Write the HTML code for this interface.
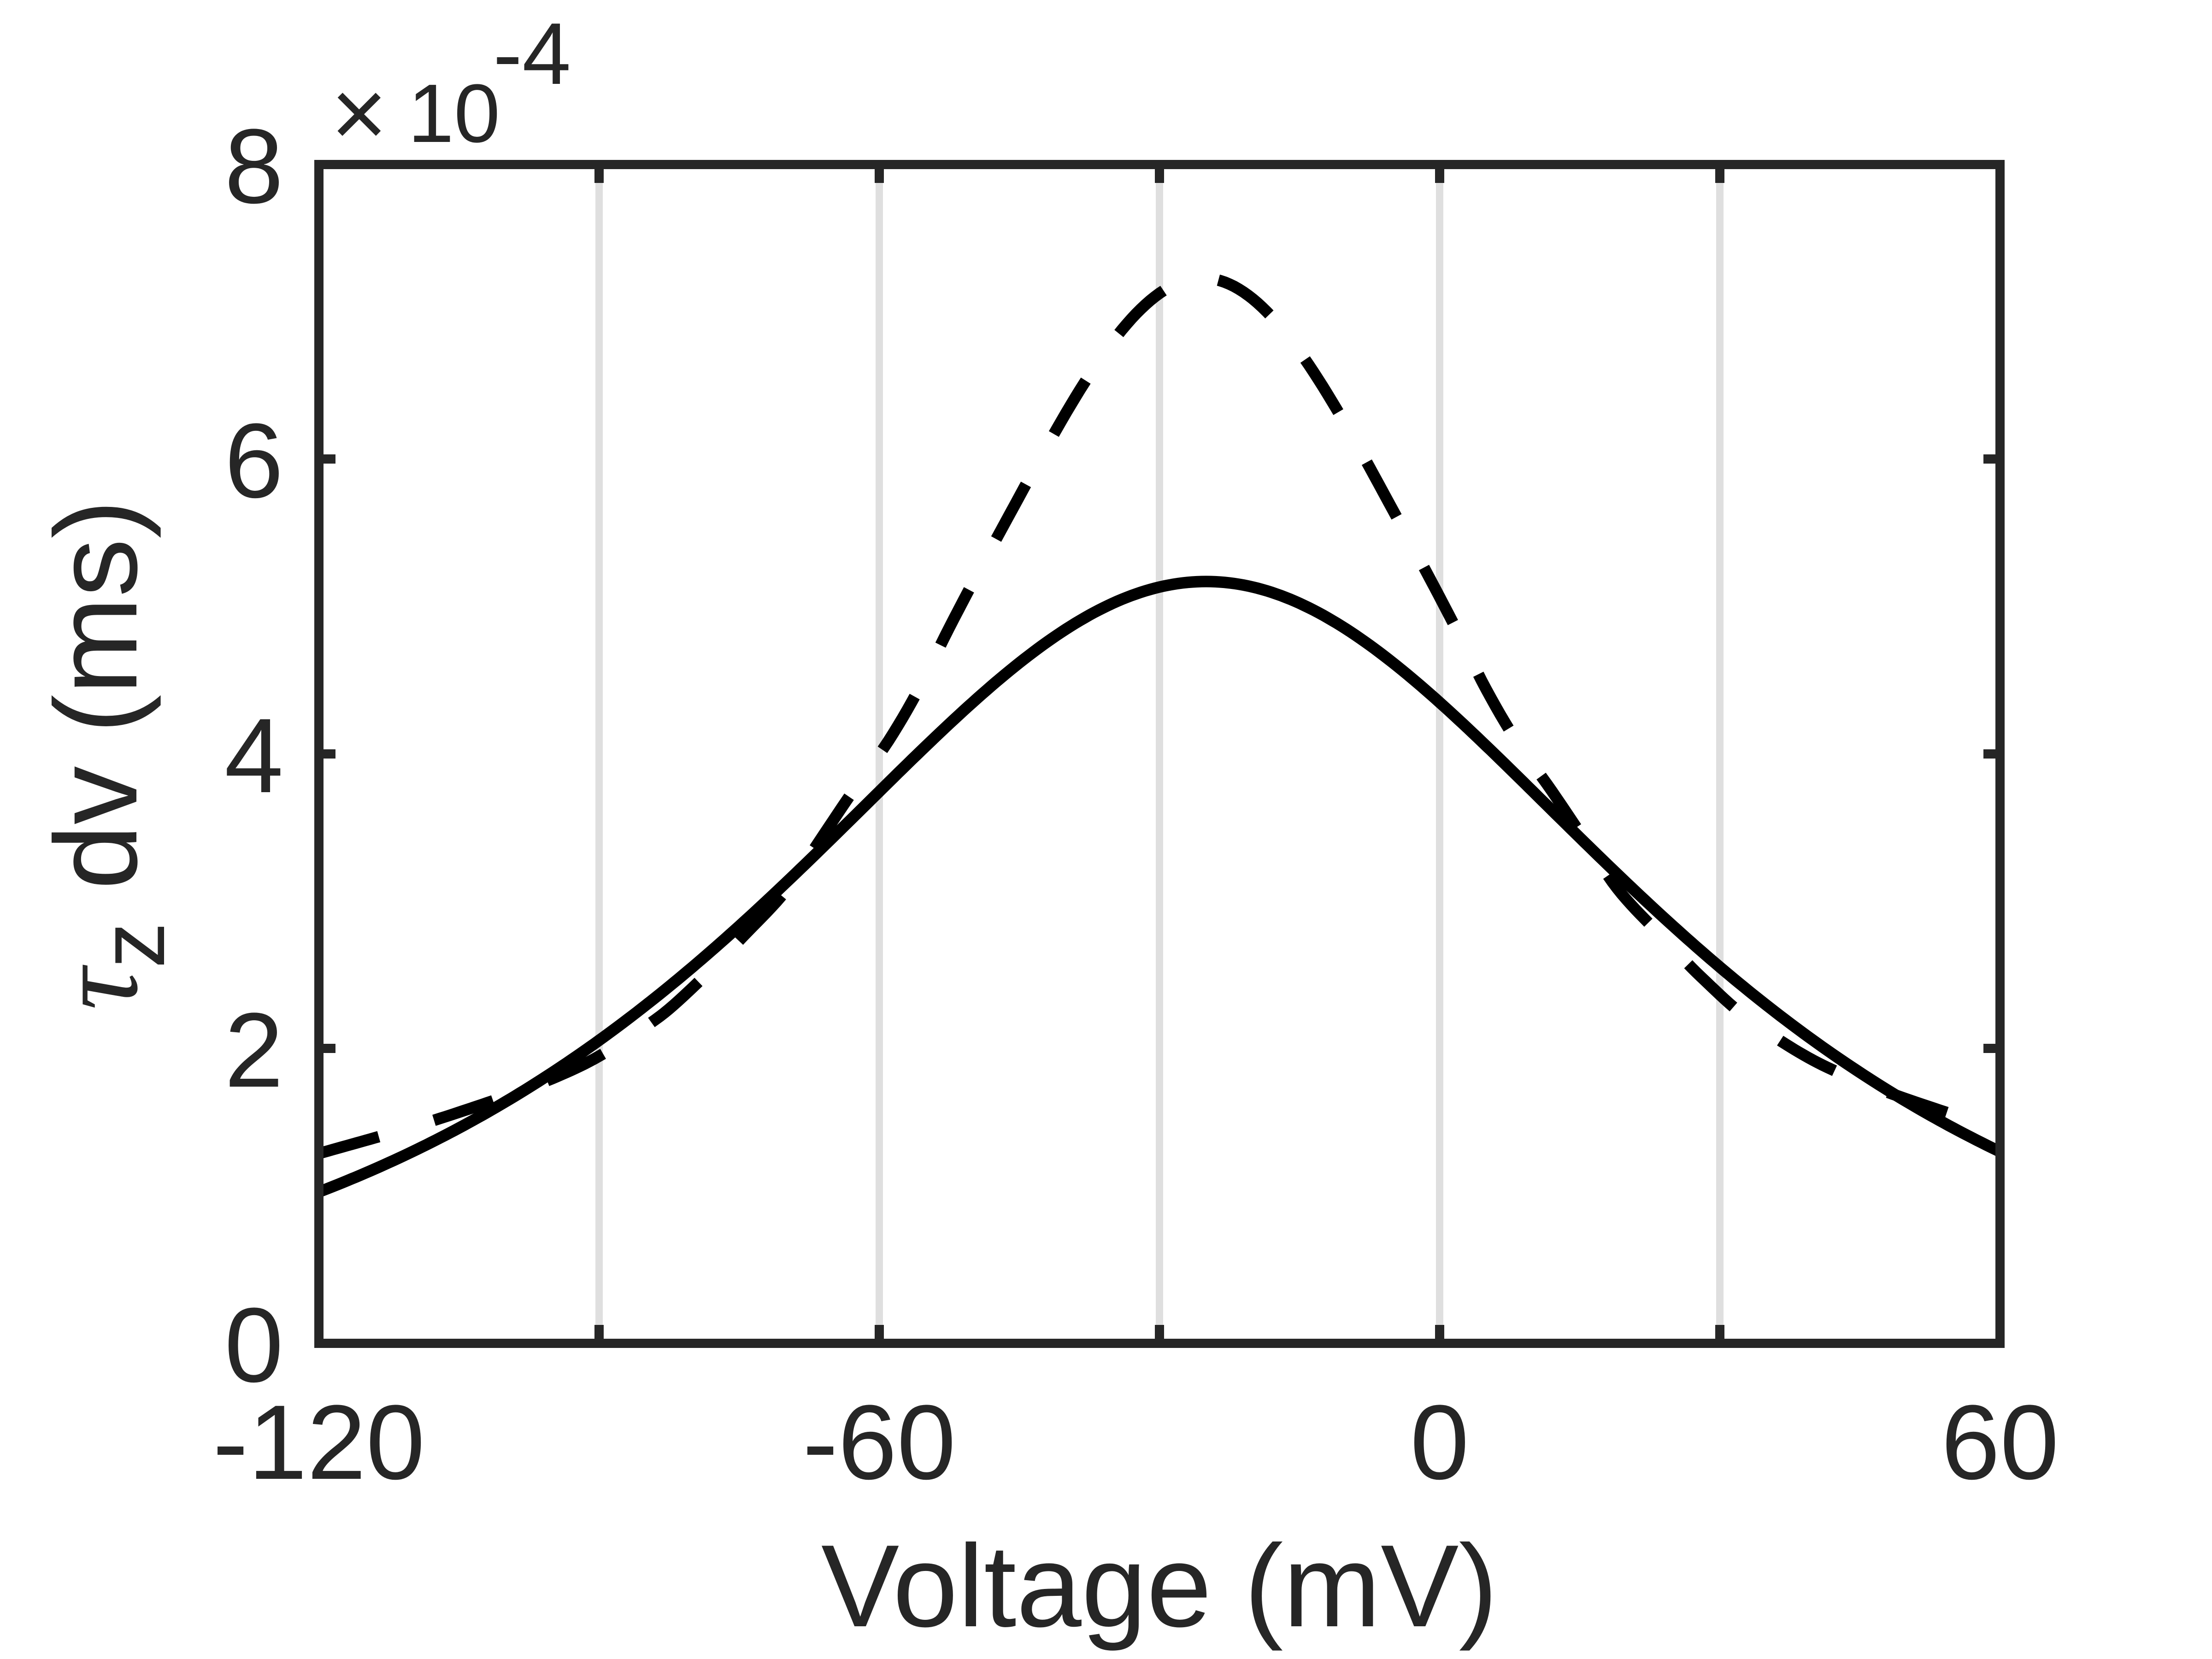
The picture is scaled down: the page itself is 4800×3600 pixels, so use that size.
<!DOCTYPE html>
<html><head><meta charset="utf-8"><style>html,body{margin:0;padding:0;background:#fff;}svg{display:block}</style></head>
<body>
<svg id="s" width="4800" height="3600" viewBox="0 0 4800 3600" xmlns="http://www.w3.org/2000/svg" font-family="Liberation Sans, Arial, sans-serif" fill="#262626">
<rect width="4800" height="3600" fill="#fff"/>
<g stroke="#dfdfdf" stroke-width="16">
<line x1="1300" y1="357" x2="1300" y2="2915"/>
<line x1="1908" y1="357" x2="1908" y2="2915"/>
<line x1="2516" y1="357" x2="2516" y2="2915"/>
<line x1="3124" y1="357" x2="3124" y2="2915"/>
<line x1="3732" y1="357" x2="3732" y2="2915"/>
</g>
<g id="curves" fill="none" stroke="#000" stroke-width="25"></g>
<g stroke="#262626" stroke-width="20" fill="none">
<rect x="692" y="357" width="3648" height="2558"/>
<path d="M1300 357v40M1908 357v40M2516 357v40M3124 357v40M3732 357v40M1300 2915v-40M1908 2915v-40M2516 2915v-40M3124 2915v-40M3732 2915v-40M692 2275h36M692 1636h36M692 996h36M4340 2275h-36M4340 1636h-36M4340 996h-36"/>
</g>
<g font-size="230" text-anchor="end">
<text x="615" y="2998">0</text>
<text x="615" y="2358">2</text>
<text x="615" y="1719">4</text>
<text x="615" y="1079">6</text>
<text x="615" y="440">8</text>
</g>
<g font-size="230" text-anchor="middle">
<text x="692" y="3209">-120</text>
<text x="1908" y="3209">-60</text>
<text x="3124" y="3209">0</text>
<text x="4340" y="3209">60</text>
</g>
<text x="2516" y="3529" font-size="254" text-anchor="middle">Voltage (mV)</text>
<text x="718" y="318" font-size="210">×</text>
<text x="885" y="308" font-size="180">10</text>
<text x="1070" y="182" font-size="190">-4</text>
<text transform="translate(296,1638) rotate(-90)" font-size="254" text-anchor="middle"><tspan font-style="italic" font-family="Liberation Serif, serif">τ</tspan><tspan dy="60" font-size="200">z</tspan><tspan dy="-60"> dv (ms)</tspan></text>
</svg>
<script>
(function(){
var L=692,R=4340,T=357,B=2915;
function X(v){return L+(v+120)*(R-L)/180;}
function Y(f){return B-f*(B-T)/8;}
function sech(x){return 2/(Math.exp(x)+Math.exp(-x));}
function lor(d){var q=d/34;return 7.23*Math.pow(1+q*q,-0.8);}
var D=[[16,lor(16)],[20,lor(20)],[24,lor(24)],[27.4,4.82],[30.2,4.46],[33.5,4.1],[37.5,3.74],[41,3.41],[44.5,3.08],[49.2,2.76],[53.5,2.48],[58.5,2.2],[67,1.87],[80,1.56],[94.5,1.29],[100,1.2],[110,1.05]];
function cr(d){
 if(d<=20) return lor(d);
 for(var i=1;i<D.length-2;i++){if(d<=D[i+1][0]){
  var x0=D[i-1][0],x1=D[i][0],x2=D[i+1][0],x3=D[i+2][0];
  var y0=D[i-1][1],y1=D[i][1],y2=D[i+1][1],y3=D[i+2][1];
  var m1=(y2-y0)/(x2-x0),m2=(y3-y1)/(x3-x1),h=x2-x1,t=(d-x1)/h;
  var t2=t*t,t3=t2*t;
  return (2*t3-3*t2+1)*y1+(t3-2*t2+t)*h*m1+(-2*t3+3*t2)*y2+(t3-t2)*h*m2;}}
 return D[D.length-2][1];}
function dash(v){return cr(Math.abs(v+25.4));}
var s="",d="";
for(var v=-120;v<=60.001;v+=0.5){
 var f1=5.17*sech(0.0242*(v+25));
 var f2=dash(v);
 s+=(v==-120?"M":"L")+X(v).toFixed(1)+" "+Y(f1).toFixed(1);
 d+=(v==-120?"M":"L")+X(v).toFixed(1)+" "+Y(f2).toFixed(1);
}
var g=document.getElementById("curves");
var ns="http://www.w3.org/2000/svg";
var p1=document.createElementNS(ns,"path");p1.setAttribute("d",s);g.appendChild(p1);
var p2=document.createElementNS(ns,"path");p2.setAttribute("d",d);p2.setAttribute("stroke-dasharray","135 125");g.appendChild(p2);
})();
</script>
</body></html>
